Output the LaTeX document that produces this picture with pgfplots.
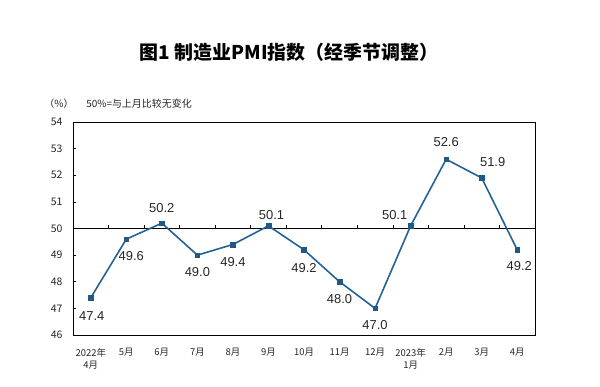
\documentclass[border=0pt]{standalone}
\usepackage{pgfplots}
\usepackage{pgfplotstable}
\pgfplotsset{compat=1.18}
\usepackage{fontspec}
\setmainfont{Liberation Sans}
\newfontfamily\cjk{Noto Sans CJK SC}
\definecolor{pmi}{RGB}{37,98,148}

\pgfplotstableread{
x y lab dx dy
0 47.4 47.4 1 -18
1 49.6 49.6 5 -17
2 50.2 50.2 0 15
3 49.0 49.0 0 -17
4 49.4 49.4 0 -18
5 50.1 50.1 3 11
6 49.2 49.2 0 -18
7 48.0 48.0 0 -17
8 47.0 47.0 0 -17
9 50.1 50.1 -16 11
10 52.6 52.6 0 17
11 51.9 51.9 11 16
12 49.2 49.2 2 -16
}\datatable

\pgfplotstableread{
x y e
0.5 50 0.12
1.5 50 0.12
2.5 50 0.12
3.5 50 0.12
4.5 50 0.12
5.5 50 0.12
6.5 50 0.12
7.5 50 0.12
8.5 50 0.12
9.5 50 0.12
10.5 50 0.12
11.5 50 0.12
}\ticktable

\begin{document}
\begin{tikzpicture}
\path[use as bounding box] (0,0) rectangle (600bp,387bp);
\begin{axis}[
  at={(73bp,52bp)}, anchor=south west,
  scale only axis, width=462bp, height=213bp,
  xmin=-0.5, xmax=12.5, ymin=46, ymax=54,
  ytick={46,47,...,54},
  xtick={0,...,12},
  xticklabels={{2022年\\4月},5月,6月,7月,8月,9月,10月,11月,12月,{2023年\\1月},2月,3月,4月},
  xtick style={draw=none},
  ytick pos=left,
  tick align=inside,
  major tick length=3bp,
  tick style={black, line width=0.6bp},
  axis line style={black, line width=0.8bp},
  /pgf/number format/assume math mode=true,
  yticklabel style={font=\cjk\fontsize{10.5}{12}\selectfont, text=black!85, xshift=-7bp},
  xticklabel style={font=\cjk\fontsize{9.5}{12}\selectfont, text=black!85, align=center, yshift=-10bp},
  clip=false,
]
\draw[black, line width=0.8bp] (axis cs:-0.5,50) -- (axis cs:12.5,50);
\addplot[forget plot, draw=none, mark=none,
  error bars/.cd, y dir=plus, y explicit, error mark=none,
  error bar style={draw=black, line width=0.6bp, solid}]
  table[x=x, y=y, y error=e] {\ticktable};
\addplot[pmi, line width=1.6bp, mark=square*, mark size=2.3bp,
  mark options={fill=pmi!90!black, draw=pmi!90!black, line width=0.5bp},
  point meta=explicit symbolic,
  nodes near coords,
  visualization depends on={\thisrow{dx} \as \dx},
  visualization depends on={\thisrow{dy} \as \dy},
  every node near coord/.append style={anchor=center, xshift=\dx, yshift=\dy,
    font=\fontsize{13}{15}\selectfont, text=black!85}]
  table[x=x, y=y, meta=lab] {\datatable};
\end{axis}
\node[font=\cjk\bfseries\fontsize{19}{22}\selectfont, anchor=center] at (289bp,335bp) {图1 制造业PMI指数（经季节调整）};
\node[font=\cjk\fontsize{10}{12}\selectfont, text=black!85, anchor=center] at (59bp,283bp) {（\%）};
\node[font=\cjk\fontsize{10}{12}\selectfont, text=black!85, anchor=center] at (139bp,283bp) {50\%=与上月比较无变化};
\end{tikzpicture}
\end{document}
